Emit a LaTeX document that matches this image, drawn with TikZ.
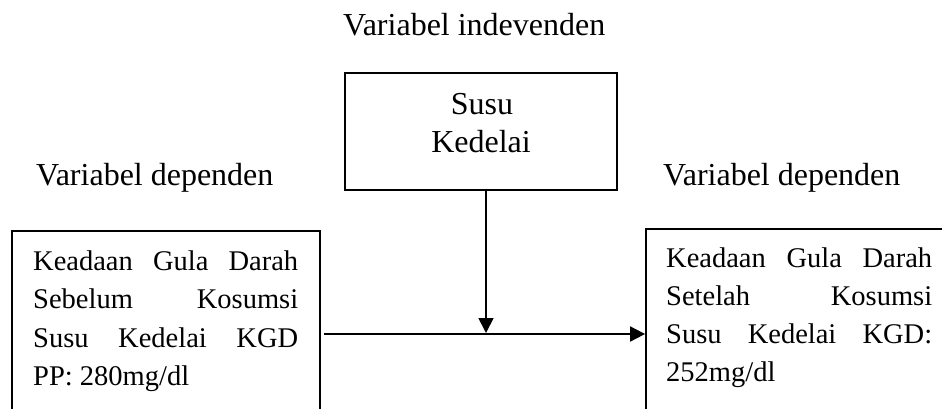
\documentclass[tikz,border=0pt]{standalone}
\usepackage{fontspec}
\setmainfont{Liberation Serif}
\usetikzlibrary{arrows.meta}
\begin{document}
\begin{tikzpicture}[x=1pt,y=-1pt,
  box/.style={draw, line width=1.8pt, inner sep=0pt},
  lbl/.style={anchor=base west, inner sep=0pt, font=\fontsize{32}{38}\selectfont},
  ctr/.style={anchor=base, inner sep=0pt, font=\fontsize{32}{38}\selectfont},
  txt/.style={anchor=base west, inner sep=0pt},
  arr/.style={line width=1.8pt, -{Triangle[length=15pt,width=15pt]}}]
\clip (0,0) rectangle (942,408);
% boxes
\node[box, minimum width=272pt, minimum height=117pt] (topbox) at (481,131.5) {};
\node[box, minimum width=308pt, minimum height=200pt] (lbox) at (166,331) {};
\node[box, minimum width=314pt, minimum height=200pt] (rbox) at (803,329) {};
% labels
\node[lbl] (lind) at (343,35) {Variabel indevenden};
\node[lbl] (ldep) at (36,185) {Variabel dependen};
\node[lbl] (rdep) at (663,185) {Variabel dependen};
% top box text
\node[ctr] (susu) at (482,114) {Susu};
\node[ctr] (kedelai) at (481,152) {Kedelai};
% left box text
\node[txt] (ltext) at (33,270) {\parbox[t]{265pt}{\fontsize{28.5}{38.5}\selectfont
Keadaan\hfill Gula\hfill Darah\\
Sebelum\hfill Kosumsi\\
Susu\hfill Kedelai\hfill KGD\\
PP: 280mg/dl}};
% right box text
\node[txt] (rtext) at (666,267) {\parbox[t]{266pt}{\fontsize{28.5}{38.3}\selectfont
Keadaan\hfill Gula\hfill Darah\\
Setelah\hfill Kosumsi\\
Susu\hfill Kedelai\hfill KGD:\\
252mg/dl}};
% connectors
\coordinate (vx) at (486,333);
\coordinate (hs) at (324,334);
\draw[arr] (topbox.south -| vx) -- (vx);
\draw[arr] (hs) -- (hs -| rbox.west);
\end{tikzpicture}
\end{document}
